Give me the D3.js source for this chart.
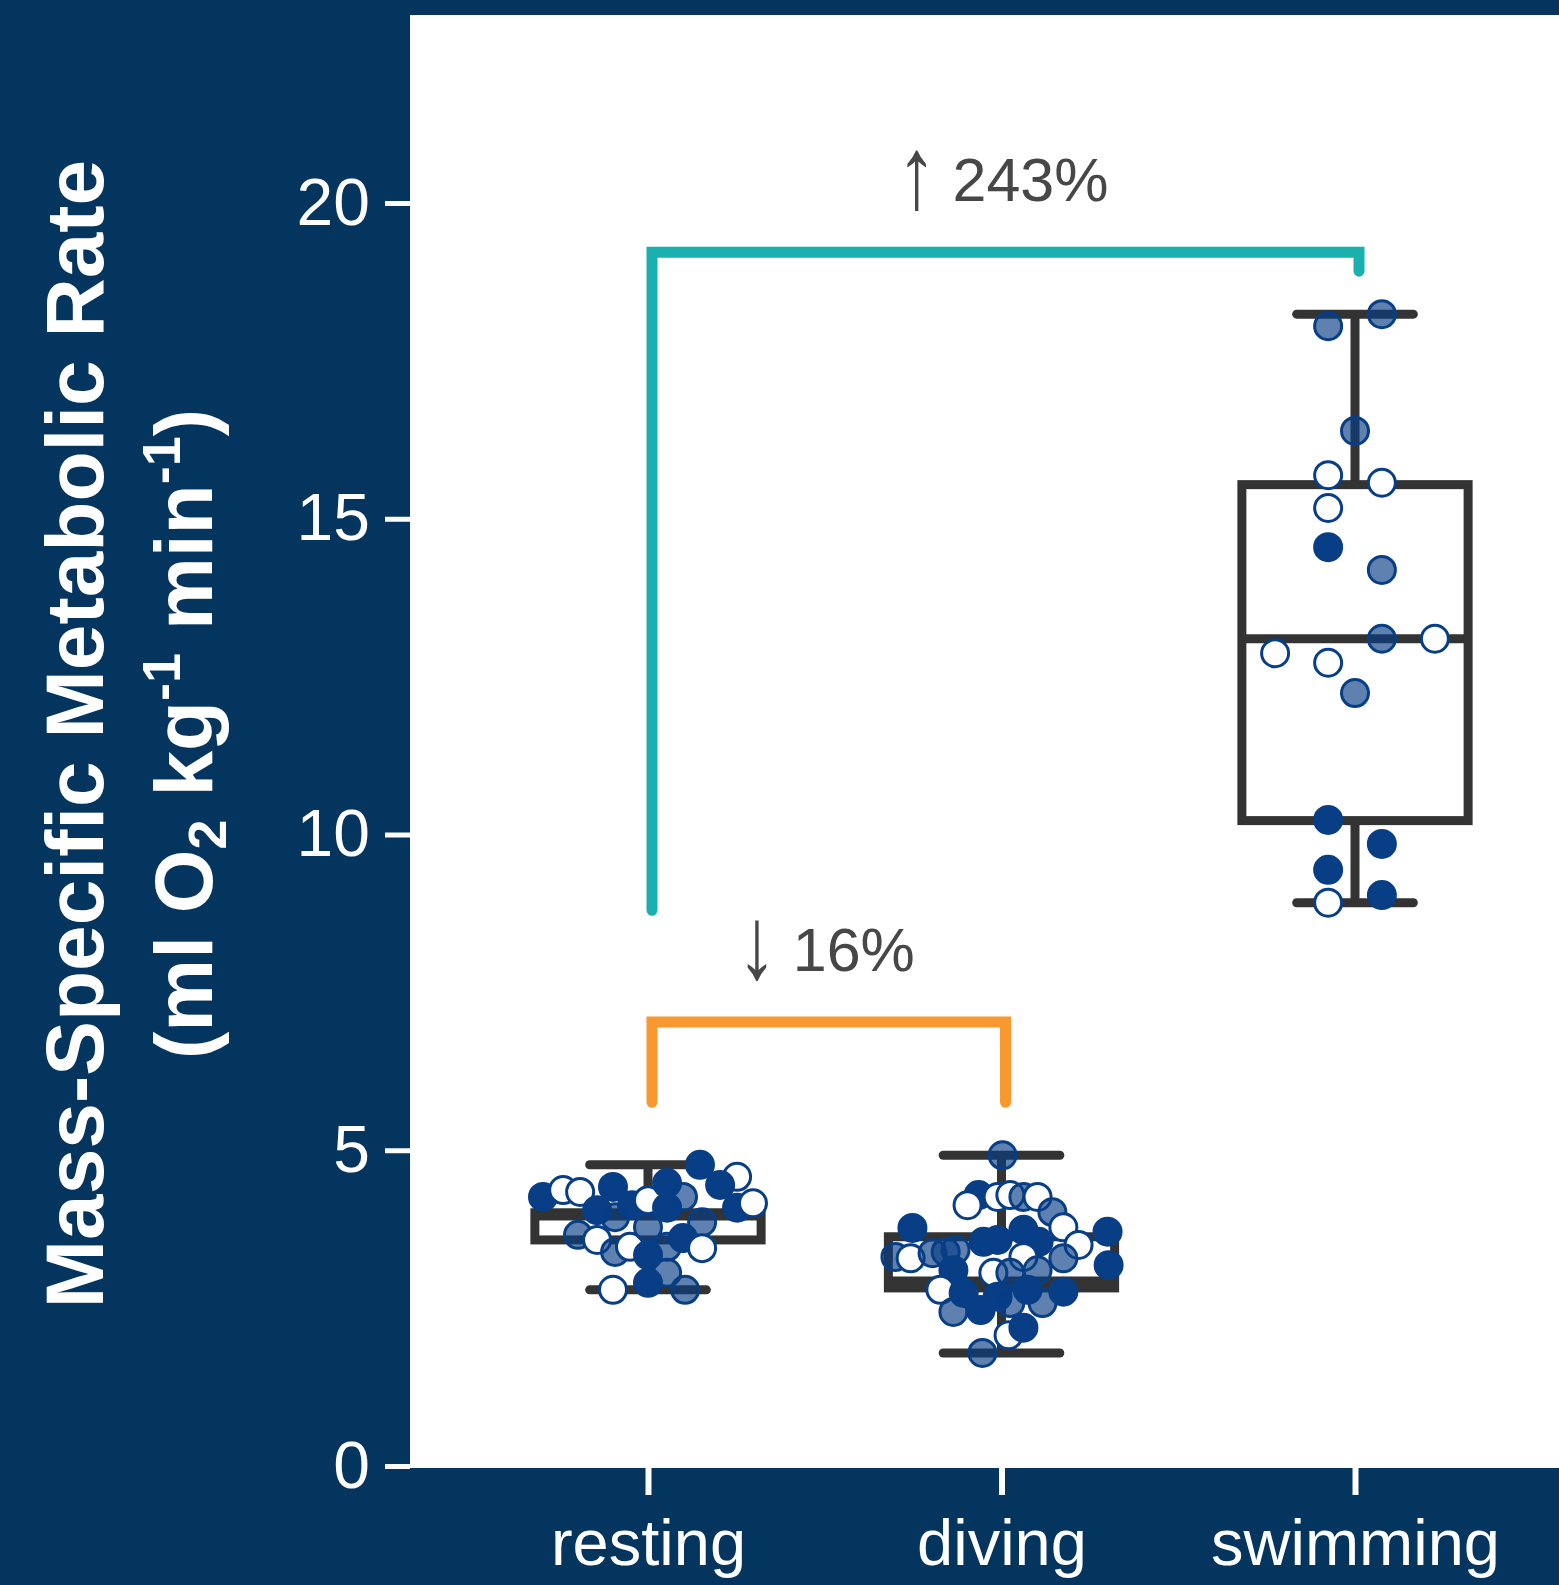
<!DOCTYPE html>
<html>
<head>
<meta charset="utf-8">
<script src="https://cdn.jsdelivr.net/npm/d3@7"></script>
<style>
  html, body { margin: 0; padding: 0; background: #04355f; }
  svg { display: block; }
</style>
</head>
<body>
<svg id="chart" width="1559" height="1585"></svg>
<script>
// ---- data ----------------------------------------------------------------
const categories = ["resting", "diving", "swimming"];
const yTicks = [0, 5, 10, 15, 20];

// box summaries per activity (min, Q1, median, Q3, max)
const boxMin    = [2.79, 1.79, 8.92];
const boxQ1     = [3.58, 2.82, 10.22];
const boxMedian = [3.96, 2.93, 13.10];
const boxQ3     = [4.01, 3.63, 15.54];
const boxMax    = [4.77, 4.92, 18.24];

// individual measurements; jitter is the horizontal offset in category steps,
// kind: "s" = solid, "h" = half-tone, "o" = open
const restingValues = [4.26, 4.37, 4.34, 4.42, 4.05, 4.13, 3.94, 3.66, 3.58, 3.39,
                       3.47, 3.78, 4.21, 4.48, 4.09, 4.26, 4.77, 4.58, 4.45, 4.09,
                       4.16, 3.86, 3.61, 3.45, 3.47, 3.34, 3.06, 2.90, 2.79, 2.79];
const restingJitter = [-0.297, -0.240, -0.192, -0.099, -0.144, -0.045, -0.093, -0.198, -0.144, -0.093,
                       -0.051, 0.000, 0.000, 0.054, 0.054, 0.099, 0.147, 0.252, 0.204, 0.252,
                       0.297, 0.153, 0.099, 0.153, 0.054, 0.000, 0.054, 0.000, 0.105, -0.099];
const restingKind   = ["s", "o", "o", "s", "s", "s", "h", "h", "o", "h",
                       "o", "h", "o", "s", "s", "h", "s", "o", "s", "s",
                       "o", "h", "s", "o", "h", "s", "h", "s", "h", "o"];

const divingValues = [4.92, 4.29, 4.13, 4.26, 4.29, 4.26, 4.26, 4.02, 3.78, 3.50,
                      3.71, 3.18, 3.77, 3.31, 3.29, 3.37, 3.39, 3.42, 3.55, 3.58,
                      3.74, 3.55, 3.31, 3.29, 3.06, 3.06, 3.10, 3.10, 2.79, 2.74,
                      2.44, 2.47, 2.68, 2.58, 2.79, 2.58, 2.76, 2.07, 2.19, 1.79];
const divingJitter = [0.003, -0.065, -0.096, -0.011, 0.025, 0.062, 0.102, 0.144, 0.175, 0.218,
                      0.300, 0.303, -0.252, -0.300, -0.257, -0.195, -0.158, -0.130, -0.051, -0.011,
                      0.062, 0.105, 0.062, 0.175, -0.023, 0.025, 0.102, -0.136, -0.173, -0.107,
                      -0.136, -0.059, -0.011, 0.025, 0.074, 0.116, 0.175, 0.020, 0.062, -0.054];
const divingKind   = ["h", "s", "o", "o", "o", "h", "o", "h", "o", "o",
                      "s", "s", "s", "h", "o", "h", "h", "h", "s", "s",
                      "s", "s", "o", "h", "o", "h", "h", "s", "o", "s",
                      "h", "s", "s", "h", "s", "h", "s", "o", "s", "h"];

const swimmingValues = [18.05, 18.24, 16.39, 15.69, 15.57, 15.17, 14.55, 14.19, 12.87, 12.72,
                        13.10, 13.10, 12.24, 10.23, 9.85, 9.44, 8.92, 9.04];
const swimmingJitter = [-0.076, 0.076, 0.000, -0.076, 0.076, -0.076, -0.076, 0.076, -0.226, -0.076,
                        0.076, 0.226, 0.000, -0.076, 0.076, -0.076, -0.076, 0.076];
const swimmingKind   = ["h", "h", "h", "o", "o", "o", "s", "h", "o", "o",
                        "h", "o", "h", "s", "s", "s", "o", "s"];

// comparison brackets: endpoints, bracket top, feet, change label
const bracketFrom  = ["resting", "resting"];
const bracketTo    = ["swimming", "diving"];
const bracketTop   = [19.22, 7.03];
const bracketLeft  = [8.80, 5.76];
const bracketRight = [18.92, 5.76];
const bracketArrow = ["\u2191", "\u2193"];
const bracketLabel = ["243%", "16%"];
const bracketColor = ["#19b0ad", "#f8982f"];

// ---- layout --------------------------------------------------------------
const W = 1559, H = 1585;
const plotLeft = 410, plotTop = 15, plotBottom = 1468;
const navy = "#04355f";
const dotNavy = "#073e86";
const boxGrey = "#333333";
const labelGrey = "#474747";
const fontFamily = "'Liberation Sans', Arial, Helvetica, sans-serif";

const svg = d3.select("#chart");

svg.append("rect").attr("width", W).attr("height", H).attr("fill", navy);
svg.append("rect")
  .attr("x", plotLeft).attr("y", plotTop)
  .attr("width", W - plotLeft).attr("height", plotBottom - plotTop)
  .attr("fill", "#ffffff");

const y = d3.scaleLinear().domain([0, 20]).range([1466, 203]);
const x = d3.scalePoint().domain(categories).range([648, 1355]);
const step = x.step();

// ---- axes ----------------------------------------------------------------
const yAxis = svg.append("g")
  .attr("transform", `translate(${plotLeft},0)`)
  .call(d3.axisLeft(y).tickValues(yTicks).tickSize(25).tickPadding(15).tickFormat(d3.format("d")));
yAxis.select(".domain").remove();
yAxis.selectAll(".tick line").attr("stroke", "#ffffff").attr("stroke-width", 5);
yAxis.selectAll(".tick text")
  .attr("fill", "#ffffff").attr("font-size", 66).attr("font-family", fontFamily);

const xAxis = svg.append("g")
  .attr("transform", `translate(0,${plotBottom})`)
  .call(d3.axisBottom(x).tickSize(27).tickPadding(24));
xAxis.select(".domain").remove();
xAxis.selectAll(".tick line").attr("stroke", "#ffffff").attr("stroke-width", 6);
xAxis.selectAll(".tick text")
  .attr("fill", "#ffffff").attr("font-size", 65).attr("font-family", fontFamily);

// ---- y-axis title --------------------------------------------------------
const titleY = 734;
const title = svg.append("g").attr("font-family", fontFamily).attr("font-weight", "bold")
  .attr("fill", "#ffffff").attr("font-size", 82).attr("text-anchor", "middle");
title.append("text")
  .attr("transform", `translate(103,${titleY}) rotate(-90)`)
  .text("Mass-Specific Metabolic Rate");
const t2 = title.append("text")
  .attr("transform", `translate(212,${titleY}) rotate(-90)`);
t2.append("tspan").text("(ml O");
t2.append("tspan").attr("font-size", 54).attr("dy", 14).text("2");
t2.append("tspan").attr("dy", -14).text(" kg");
t2.append("tspan").attr("font-size", 54).attr("dy", -32).text("-1");
t2.append("tspan").attr("dy", 32).text(" min");
t2.append("tspan").attr("font-size", 54).attr("dy", -32).text("-1");
t2.append("tspan").attr("dy", 32).text(")");

// ---- brackets ------------------------------------------------------------
const brackets = bracketFrom.map((f, i) => ({
  x0: x(f) + 4, x1: x(bracketTo[i]) + 4,
  top: bracketTop[i], left: bracketLeft[i], right: bracketRight[i],
  arrow: bracketArrow[i], label: bracketLabel[i], color: bracketColor[i]
}));
const bg = svg.append("g");
bg.selectAll("path").data(brackets).join("path")
  .attr("d", d => `M${d.x0},${y(d.left)}V${y(d.top)}H${d.x1}V${y(d.right)}`)
  .attr("fill", "none").attr("stroke", d => d.color).attr("stroke-width", 11)
  .attr("stroke-linecap", "round").attr("stroke-linejoin", "miter");

// change labels: number centred slightly right of the bracket middle,
// with a tall, slim arrow glyph to its left (stretched vertically)
brackets.forEach(d => {
  const baseline = y(d.top) - 51;
  const num = bg.append("text")
    .attr("x", (d.x0 + d.x1) / 2 + 25).attr("y", baseline)
    .attr("text-anchor", "middle").attr("font-family", fontFamily)
    .attr("font-size", 61).attr("fill", labelGrey)
    .text(d.label);
  const numLeft = num.node().getBBox().x;
  bg.append("text")
    .attr("font-family", fontFamily).attr("font-size", 61)
    .attr("fill", labelGrey).attr("text-anchor", "middle")
    .attr("y", -2)
    .attr("transform", `translate(${numLeft - 36},${baseline + 10}) scale(1.3,1.68)`)
    .text(d.arrow);
});

// ---- boxes ---------------------------------------------------------------
const boxes = categories.map((c, i) => ({
  c, min: boxMin[i], q1: boxQ1[i], med: boxMedian[i], q3: boxQ3[i], max: boxMax[i]
}));
const boxW = 0.64 * step, capW = 0.33 * step;
const boxG = svg.append("g").attr("stroke", boxGrey).attr("stroke-width", 9).attr("fill", "none");
const bx = boxG.selectAll("g").data(boxes).join("g");
bx.append("line")
  .attr("x1", d => x(d.c)).attr("x2", d => x(d.c))
  .attr("y1", d => y(d.max)).attr("y2", d => y(d.q3));
bx.append("line")
  .attr("x1", d => x(d.c)).attr("x2", d => x(d.c))
  .attr("y1", d => y(d.q1)).attr("y2", d => y(d.min));
bx.append("line").attr("stroke-linecap", "round")
  .attr("x1", d => x(d.c) - capW / 2).attr("x2", d => x(d.c) + capW / 2)
  .attr("y1", d => y(d.max)).attr("y2", d => y(d.max));
bx.append("line").attr("stroke-linecap", "round")
  .attr("x1", d => x(d.c) - capW / 2).attr("x2", d => x(d.c) + capW / 2)
  .attr("y1", d => y(d.min)).attr("y2", d => y(d.min));
bx.append("rect")
  .attr("x", d => x(d.c) - boxW / 2).attr("width", boxW)
  .attr("y", d => y(d.q3)).attr("height", d => y(d.q1) - y(d.q3));
bx.append("line")
  .attr("x1", d => x(d.c) - boxW / 2).attr("x2", d => x(d.c) + boxW / 2)
  .attr("y1", d => y(d.med)).attr("y2", d => y(d.med));

// ---- points --------------------------------------------------------------
const groups = [
  ["resting", restingValues, restingJitter, restingKind],
  ["diving", divingValues, divingJitter, divingKind],
  ["swimming", swimmingValues, swimmingJitter, swimmingKind]
];
const points = groups.flatMap(([c, vals, jit, kind]) =>
  vals.map((v, i) => ({ c, v, j: jit[i], k: kind[i] })));

svg.append("g").selectAll("circle").data(points).join("circle")
  .attr("cx", d => x(d.c) + d.j * step)
  .attr("cy", d => y(d.v))
  .attr("r", 13.5)
  .attr("fill", d => d.k === "o" ? "#ffffff" : dotNavy)
  .attr("fill-opacity", d => d.k === "h" ? 0.65 : 1)
  .attr("stroke", dotNavy)
  .attr("stroke-width", 3);
</script>
</body>
</html>
